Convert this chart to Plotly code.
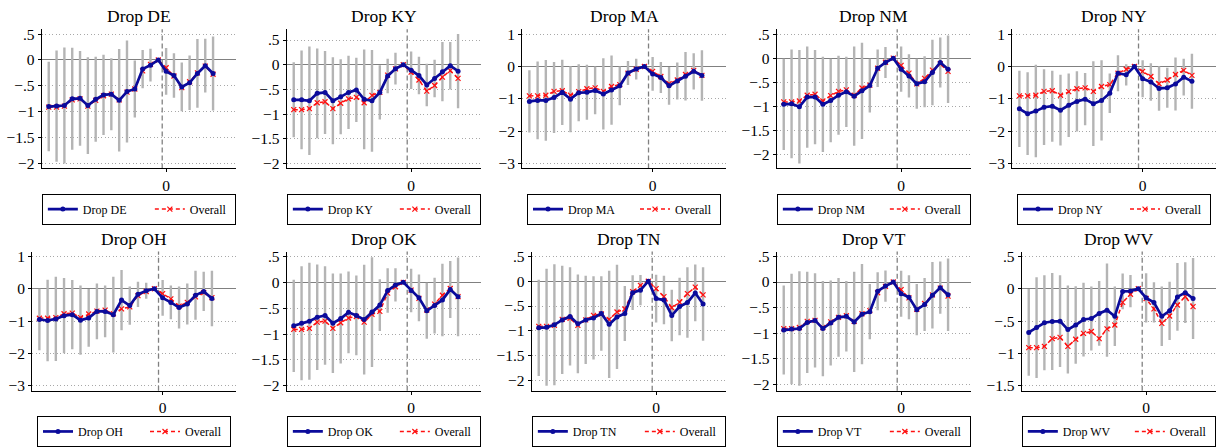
import plotly.graph_objects as go

# Event time relative to adoption; t = -1 is the omitted reference period
event_time = list(range(-15, 7))

# Pooled estimate over all states
overall = [-0.91, -0.91, -0.89, -0.77, -0.75, -0.89, -0.78, -0.69, -0.66, -0.77, -0.62,
           -0.56, -0.21, -0.085, 0, -0.15, -0.31, -0.535, -0.42, -0.25, -0.12, -0.275]

# Leave-one-out estimates and 95% CI half-widths
de_est = [-0.90, -0.89, -0.88, -0.75, -0.74, -0.88, -0.76, -0.675, -0.66, -0.78, -0.61,
          -0.56, -0.175, -0.10, 0, -0.22, -0.30, -0.52, -0.44, -0.26, -0.11, -0.26]
de_ci = [0.865, 1.075, 1.12, 0.985, 0.915, 0.935, 0.82, 0.775, 0.695, 0.99, 0.985,
         0.55, 0.37, 0.315, 0, 0.45, 0.43, 0.47, 0.525, 0.665, 0.52, 0.715]

ky_est = [-0.71, -0.71, -0.73, -0.58, -0.56, -0.73, -0.65, -0.56, -0.51, -0.70, -0.73,
          -0.56, -0.23, -0.08, 0, -0.11, -0.22, -0.41, -0.28, -0.14, -0.02, -0.13]
ky_ci = [0.76, 1.0, 1.1, 0.91, 0.84, 0.88, 0.76, 0.74, 0.65, 1.01, 1.03,
         0.55, 0.35, 0.32, 0, 0.38, 0.38, 0.43, 0.38, 0.6, 0.48, 0.75]

ma_est = [-1.08, -1.05, -1.05, -0.96, -0.80, -1.01, -0.81, -0.80, -0.74, -0.85, -0.73,
          -0.60, -0.20, -0.08, 0, -0.23, -0.34, -0.60, -0.45, -0.30, -0.15, -0.28]
ma_ci = [0.96, 1.2, 1.25, 1.1, 1.01, 1.02, 0.88, 0.85, 0.74, 1.1, 1.07,
         0.6, 0.37, 0.32, 0, 0.52, 0.48, 0.58, 0.57, 0.75, 0.56, 0.78]

nm_est = [-0.96, -0.95, -1.01, -0.81, -0.81, -0.96, -0.88, -0.77, -0.70, -0.79, -0.68,
          -0.57, -0.21, -0.09, 0, -0.23, -0.37, -0.53, -0.49, -0.30, -0.09, -0.23]
nm_ci = [0.95, 1.13, 1.18, 1.05, 0.98, 0.99, 0.87, 0.82, 0.73, 1.03, 1.0,
         0.56, 0.39, 0.32, 0, 0.47, 0.45, 0.52, 0.53, 0.68, 0.52, 0.7]

ny_est = [-1.31, -1.46, -1.38, -1.26, -1.23, -1.35, -1.20, -1.08, -1.01, -1.15, -1.05,
          -0.83, -0.21, -0.26, 0, -0.38, -0.48, -0.68, -0.66, -0.54, -0.33, -0.46]
ny_ci = [1.18, 1.28, 1.43, 1.17, 1.1, 1.09, 0.98, 0.93, 0.81, 1.31, 1.24,
         0.61, 0.56, 0.33, 0, 0.57, 0.58, 0.69, 0.62, 0.82, 0.57, 0.85]

oh_est = [-0.95, -0.98, -0.93, -0.83, -0.80, -0.97, -0.90, -0.70, -0.70, -0.80, -0.35,
          -0.52, -0.17, -0.06, 0, -0.28, -0.42, -0.58, -0.47, -0.20, -0.08, -0.30]
oh_ci = [0.95, 1.26, 1.3, 1.16, 1.07, 1.07, 0.89, 0.86, 0.8, 1.17, 0.93,
         0.59, 0.39, 0.25, 0, 0.55, 0.52, 0.65, 0.63, 0.76, 0.61, 0.86]

ok_est = [-0.84, -0.79, -0.75, -0.675, -0.64, -0.79, -0.70, -0.58, -0.64, -0.72, -0.575,
          -0.44, -0.16, -0.05, 0, -0.16, -0.30, -0.55, -0.45, -0.34, -0.14, -0.28]
ok_ci = [0.89, 1.1, 1.13, 1.02, 0.95, 0.96, 0.87, 0.79, 0.77, 1.06, 1.06,
         0.5, 0.43, 0.32, 0, 0.42, 0.45, 0.54, 0.54, 0.7, 0.55, 0.76]

tn_est = [-0.94, -0.93, -0.88, -0.78, -0.71, -0.86, -0.78, -0.74, -0.65, -0.87, -0.72,
          -0.65, -0.23, -0.18, 0, -0.35, -0.38, -0.69, -0.51, -0.43, -0.235, -0.46]
tn_ci = [0.97, 1.18, 1.22, 1.09, 0.99, 0.995, 0.89, 0.84, 0.75, 1.08, 1.05,
         0.555, 0.35, 0.305, 0, 0.48, 0.49, 0.52, 0.58, 0.71, 0.57, 0.74]

vt_est = [-0.94, -0.92, -0.91, -0.79, -0.75, -0.91, -0.80, -0.69, -0.67, -0.78, -0.63,
          -0.58, -0.18, -0.08, 0, -0.23, -0.30, -0.54, -0.44, -0.26, -0.11, -0.25]
vt_ci = [0.87, 1.08, 1.12, 0.99, 0.92, 0.93, 0.83, 0.77, 0.69, 0.98, 0.98,
         0.54, 0.37, 0.305, 0, 0.45, 0.43, 0.5, 0.52, 0.65, 0.51, 0.71]

wv_est = [-0.675, -0.60, -0.525, -0.505, -0.50, -0.63, -0.56, -0.475, -0.46, -0.38, -0.33,
          -0.425, -0.04, -0.035, 0, -0.14, -0.21, -0.425, -0.34, -0.125, -0.06, -0.15]
wv_ci = [0.67, 0.78, 0.735, 0.75, 0.71, 0.68, 0.6, 0.57, 0.495, 0.5, 0.72,
         0.46, 0.275, 0.25, 0, 0.38, 0.31, 0.46, 0.45, 0.525, 0.47, 0.625]

states = ["DE", "KY", "MA", "NM", "NY", "OH", "OK", "TN", "VT", "WV"]
estimates = [de_est, ky_est, ma_est, nm_est, ny_est, oh_est, ok_est, tn_est, vt_est, wv_est]
intervals = [de_ci, ky_ci, ma_ci, nm_ci, ny_ci, oh_ci, ok_ci, tn_ci, vt_ci, wv_ci]

ticks_half = [0.5, 0, -0.5, -1, -1.5, -2]
ticks_unit = [1, 0, -1, -2, -3]
ticks_wv = [0.5, 0, -0.5, -1, -1.5]
y_ticks = [ticks_half, ticks_half, ticks_unit, ticks_half, ticks_unit,
           ticks_unit, ticks_half, ticks_half, ticks_half, ticks_wv]

xtick_vals = [0]
xtick_text = ["0"]

FONT = "Liberation Serif"
BLUE = "#0b0b9b"
RED = "#ff1010"
BAR_GRAY = "#b4b4b4"

W, H = 1225, 447
ROW_TOP = [26, 255]
PLOT_H = 143.3
COL_X = [0, 245, 490, 735, 980]


def tick_label(v):
    if v == 0:
        return "0"
    s = f"{abs(v):g}"
    if s.startswith("0."):
        s = s[1:]
    return ("\u2212" if v < 0 else "") + s


def font(size):
    return dict(family=FONT, size=size, color="black", weight="normal")


fig = go.Figure()
layout = dict(
    width=W, height=H, margin=dict(l=0, r=0, t=0, b=0),
    paper_bgcolor="white", plot_bgcolor="white",
    font=font(12),
    showlegend=True,
)
annotations = []
shapes = []

for i, (st, est, ci, yt) in enumerate(zip(states, estimates, intervals, y_ticks)):
    n = i + 1
    row, col = divmod(i, 5)
    left_off = 32 if yt is ticks_unit else 41.7
    x0 = COL_X[col] + left_off
    x1 = COL_X[col] + 236
    top = ROW_TOP[row]
    bot = top + PLOT_H

    lo = min(min(yt), min(e - c for e, c in zip(est, ci)))
    hi = max(max(yt), max(e + c for e, c in zip(est, ci)))
    pad = (hi - lo) * 5 / (PLOT_H - 10)

    xa = "x" if n == 1 else f"x{n}"
    ya = "y" if n == 1 else f"y{n}"
    lg = "legend" if n == 1 else f"legend{n}"

    # confidence intervals as capless spikes
    fig.add_trace(go.Scatter(
        x=event_time, y=est, mode="markers", xaxis=xa, yaxis=ya,
        marker=dict(size=1, color="rgba(0,0,0,0)"),
        error_y=dict(type="data", array=ci, symmetric=True, color=BAR_GRAY,
                     thickness=2.4, width=0),
        showlegend=False, hoverinfo="skip", legend=lg,
    ))
    fig.add_trace(go.Scatter(
        x=event_time, y=overall, mode="lines+markers", name="Overall",
        xaxis=xa, yaxis=ya, legend=lg, legendrank=2, legendwidth=40,
        line=dict(color=RED, width=1.5, dash="4px,3px"),
        marker=dict(symbol="x-thin", size=5, line=dict(color=RED, width=1.2), color=RED),
    ))
    fig.add_trace(go.Scatter(
        x=event_time, y=est, mode="lines+markers", name=f"Drop {st}",
        xaxis=xa, yaxis=ya, legend=lg, legendrank=1, legendwidth=62,
        line=dict(color=BLUE, width=2.7),
        marker=dict(symbol="circle", size=5, color=BLUE),
    ))

    layout["xaxis" if n == 1 else f"xaxis{n}"] = dict(
        domain=[x0 / W, x1 / W], anchor=ya, range=[-15.9, 8.93],
        showgrid=False, zeroline=False, showline=True, linecolor="black", linewidth=1,
        tickmode="array", tickvals=xtick_vals, ticktext=xtick_text,
        ticks="outside", ticklen=3, tickcolor="black",
        tickfont=font(15.5),
    )
    layout["yaxis" if n == 1 else f"yaxis{n}"] = dict(
        domain=[1 - bot / H, 1 - top / H], anchor=xa, range=[lo - pad, hi + pad],
        showgrid=True, gridcolor="#a8a8a8", griddash="1px,2.5px", gridwidth=1,
        zeroline=True, zerolinecolor="#808080", zerolinewidth=1.2,
        showline=True, linecolor="black", linewidth=1,
        tickmode="array", tickvals=yt, ticktext=[tick_label(v) for v in yt],
        ticks="outside", ticklen=3, tickcolor="black",
        tickfont=font(15.5),
    )
    layout[lg] = dict(
        x=(x0 + x1) / 2 / W, xanchor="center",
        y=1 - (bot + 26) / H, yanchor="top",
        orientation="h", bordercolor="black", borderwidth=1, bgcolor="white",
        font=font(12),
        itemwidth=30, traceorder="normal",
    )

    annotations.append(dict(
        text=f"Drop {st}", x=(x0 + x1) / 2 / W, y=1 - top / H,
        xref="paper", yref="paper", xanchor="center", yanchor="bottom",
        yshift=1, showarrow=False, font=font(17.5),
    ))
    shapes.append(dict(
        type="line", xref=xa, yref=f"{ya} domain", x0=-0.5, x1=-0.5, y0=0, y1=1,
        line=dict(color="#808080", width=1.3, dash="5px,3px"), layer="below",
    ))

layout["annotations"] = annotations
layout["shapes"] = shapes
fig.update_layout(**layout)
fig.write_html("out.html")
